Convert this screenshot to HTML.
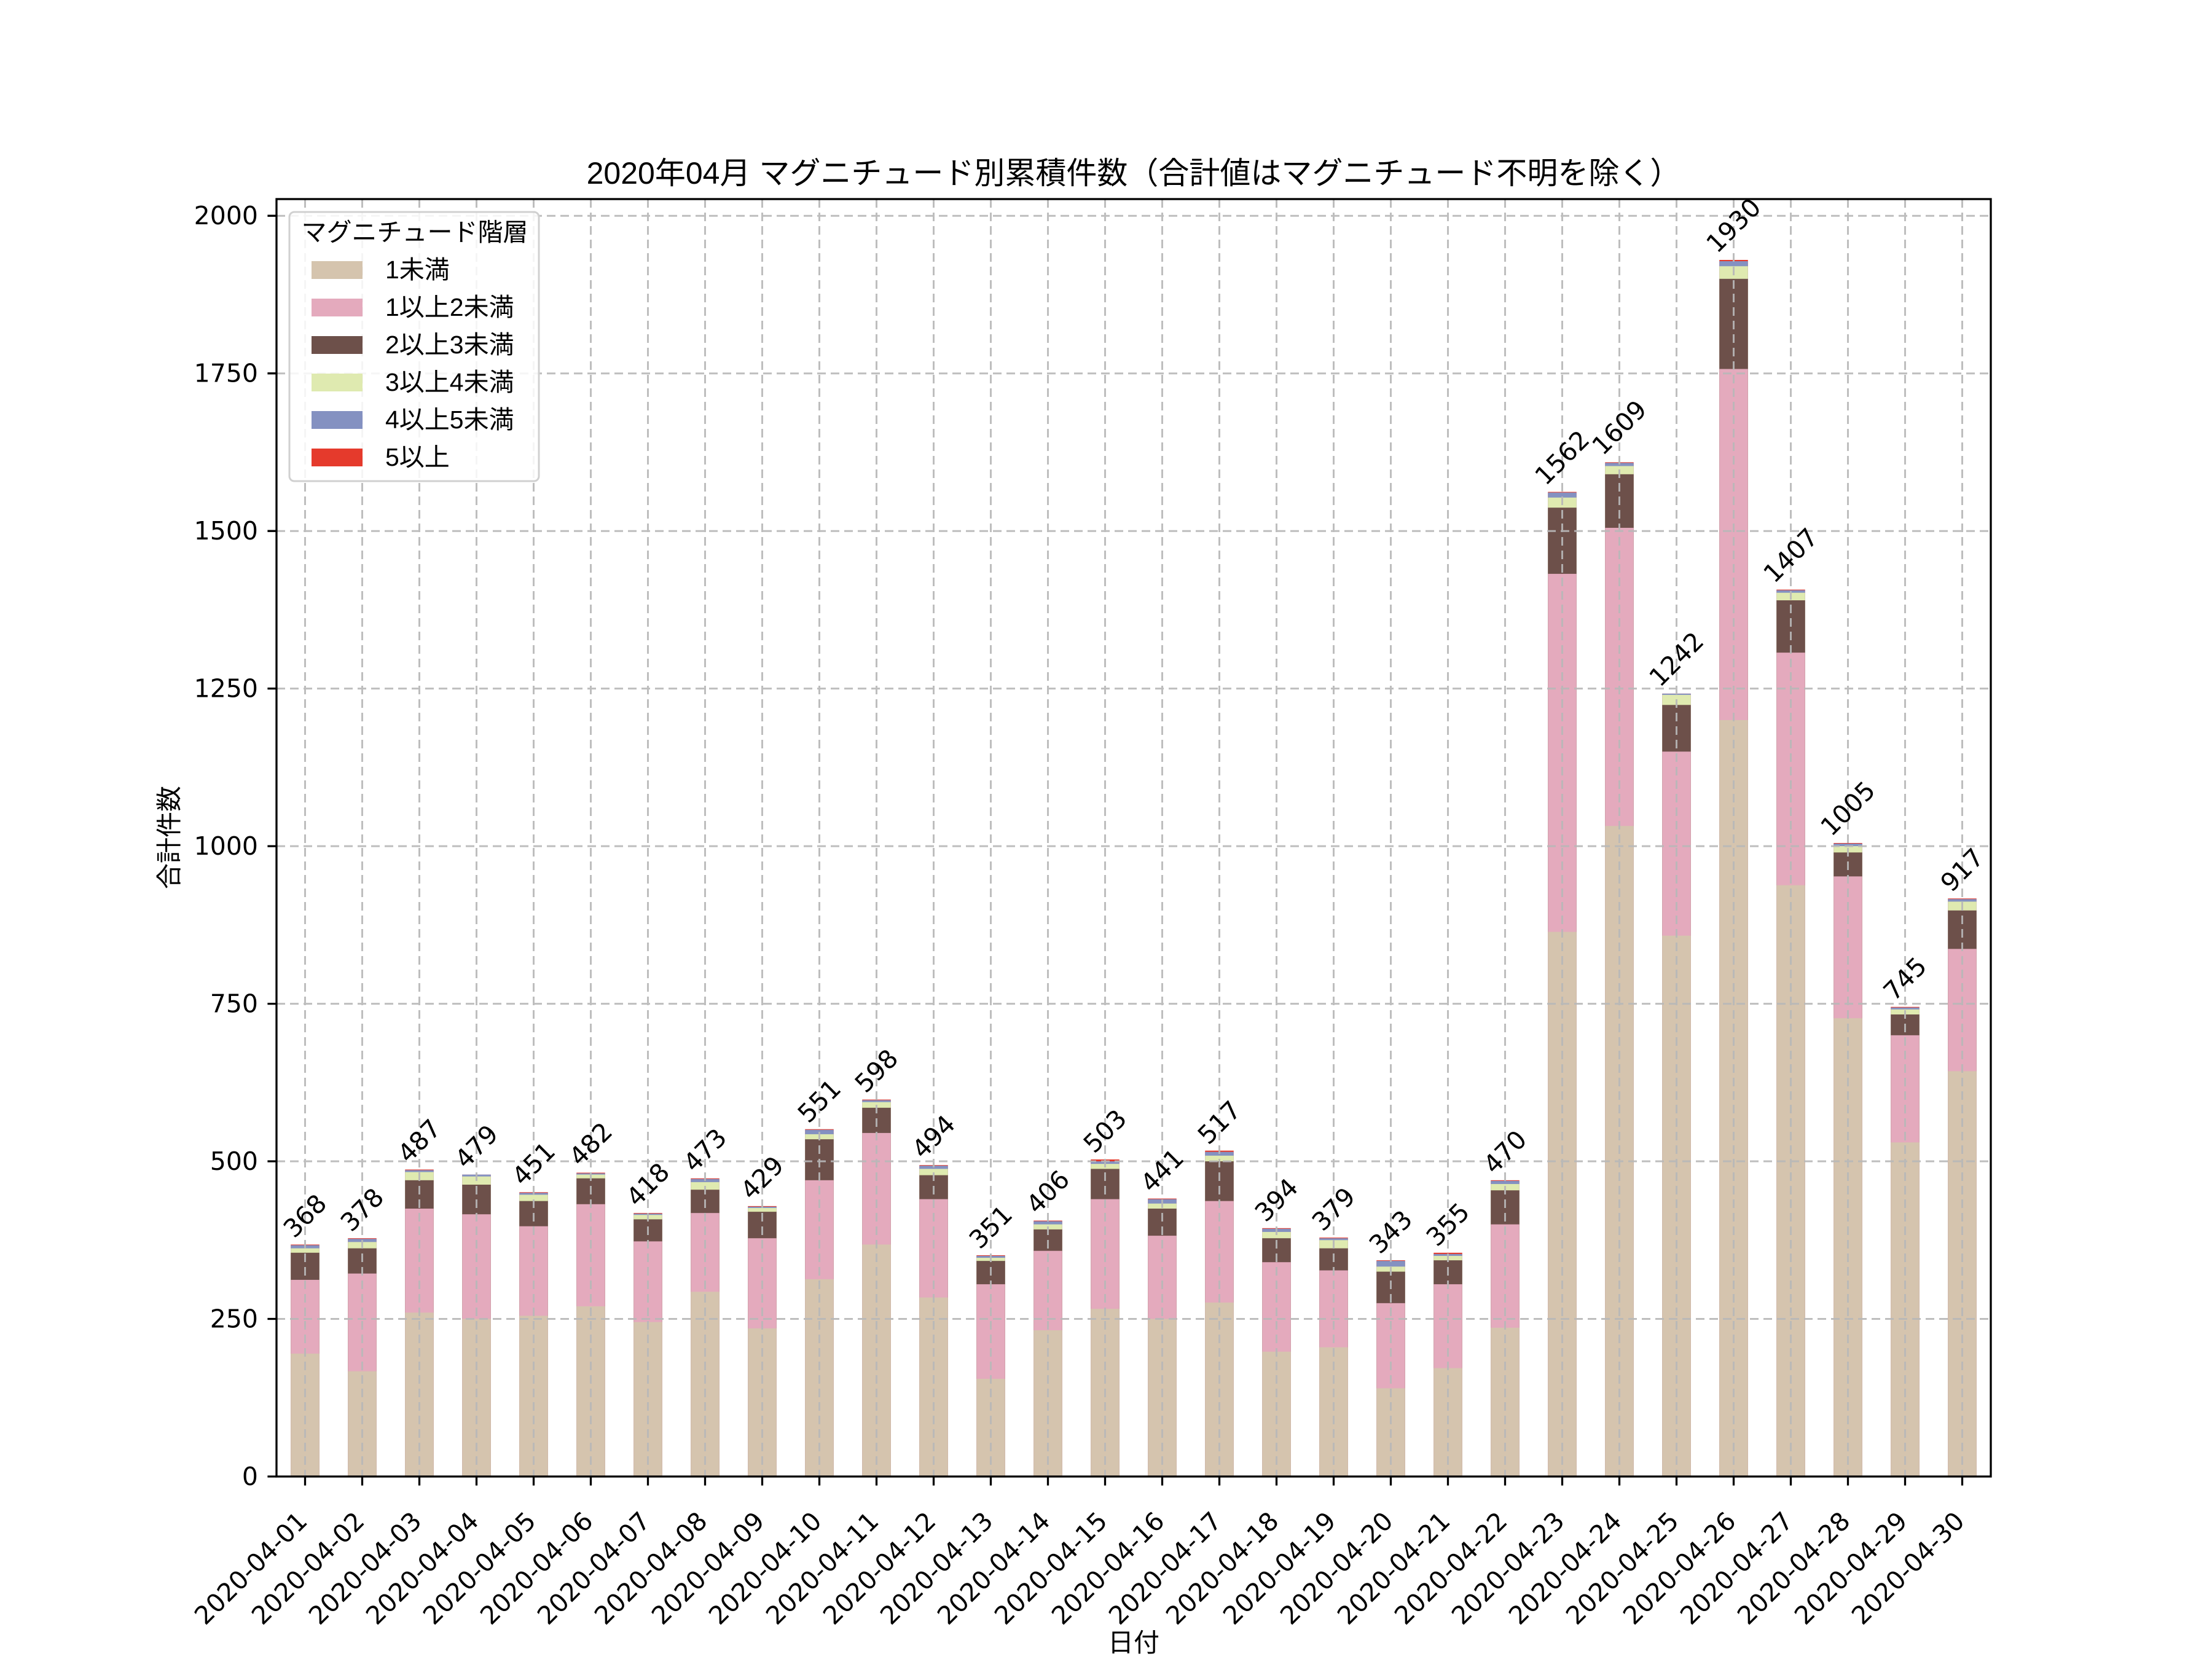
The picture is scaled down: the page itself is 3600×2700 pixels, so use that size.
<!DOCTYPE html>
<html><head><meta charset="utf-8"><style>
html,body{margin:0;padding:0;background:#fff}
svg{display:block}
text{font-family:"Liberation Sans","Noto Sans CJK JP",sans-serif;fill:#000}
.a{font-family:"DejaVu Sans","Noto Sans CJK JP",sans-serif;font-size:41px;text-anchor:middle;dominant-baseline:central}
.x{font-family:"DejaVu Sans","Noto Sans CJK JP",sans-serif;font-size:41px;text-anchor:end}
.y{font-family:"DejaVu Sans","Noto Sans CJK JP",sans-serif;font-size:41px;text-anchor:end;dominant-baseline:central}
</style></head><body>
<svg width="3600" height="2700" viewBox="0 0 3600 2700" xmlns="http://www.w3.org/2000/svg">
<rect width="3600" height="2700" fill="#fff"/>
<g transform="translate(496.5,2403) scale(93,-1.0259)">
<g fill="#e53a2c">
<rect x="-0.25" width="0.5" height="368"/><rect x="0.75" width="0.5" height="378"/><rect x="1.75" width="0.5" height="487"/><rect x="2.75" width="0.5" height="479"/><rect x="3.75" width="0.5" height="451"/><rect x="4.75" width="0.5" height="482"/><rect x="5.75" width="0.5" height="418"/><rect x="6.75" width="0.5" height="473"/><rect x="7.75" width="0.5" height="429"/><rect x="8.75" width="0.5" height="551"/><rect x="9.75" width="0.5" height="598"/><rect x="10.75" width="0.5" height="494"/><rect x="11.75" width="0.5" height="351"/><rect x="12.75" width="0.5" height="406"/><rect x="13.75" width="0.5" height="503"/><rect x="14.75" width="0.5" height="441"/><rect x="15.75" width="0.5" height="517"/><rect x="16.75" width="0.5" height="394"/><rect x="17.75" width="0.5" height="379"/><rect x="18.75" width="0.5" height="343"/><rect x="19.75" width="0.5" height="355"/><rect x="20.75" width="0.5" height="470"/><rect x="21.75" width="0.5" height="1562"/><rect x="22.75" width="0.5" height="1609"/><rect x="23.75" width="0.5" height="1242"/><rect x="24.75" width="0.5" height="1930"/><rect x="25.75" width="0.5" height="1407"/><rect x="26.75" width="0.5" height="1005"/><rect x="27.75" width="0.5" height="745"/><rect x="28.75" width="0.5" height="917"/>
</g>
<g fill="#8491c1">
<rect x="-0.25" width="0.5" height="367"/><rect x="0.75" width="0.5" height="377"/><rect x="1.75" width="0.5" height="486"/><rect x="2.75" width="0.5" height="479"/><rect x="3.75" width="0.5" height="450"/><rect x="4.75" width="0.5" height="481"/><rect x="5.75" width="0.5" height="417"/><rect x="6.75" width="0.5" height="472"/><rect x="7.75" width="0.5" height="428"/><rect x="8.75" width="0.5" height="550"/><rect x="9.75" width="0.5" height="597"/><rect x="10.75" width="0.5" height="493"/><rect x="11.75" width="0.5" height="350"/><rect x="12.75" width="0.5" height="405"/><rect x="13.75" width="0.5" height="500"/><rect x="14.75" width="0.5" height="440"/><rect x="15.75" width="0.5" height="515"/><rect x="16.75" width="0.5" height="393"/><rect x="17.75" width="0.5" height="378"/><rect x="18.75" width="0.5" height="342"/><rect x="19.75" width="0.5" height="353"/><rect x="20.75" width="0.5" height="469"/><rect x="21.75" width="0.5" height="1561"/><rect x="22.75" width="0.5" height="1608"/><rect x="23.75" width="0.5" height="1242"/><rect x="24.75" width="0.5" height="1928"/><rect x="25.75" width="0.5" height="1406"/><rect x="26.75" width="0.5" height="1004"/><rect x="27.75" width="0.5" height="744"/><rect x="28.75" width="0.5" height="916"/>
</g>
<g fill="#dfeab0">
<rect x="-0.25" width="0.5" height="362"/><rect x="0.75" width="0.5" height="372"/><rect x="1.75" width="0.5" height="483"/><rect x="2.75" width="0.5" height="476"/><rect x="3.75" width="0.5" height="447"/><rect x="4.75" width="0.5" height="479"/><rect x="5.75" width="0.5" height="415"/><rect x="6.75" width="0.5" height="467"/><rect x="7.75" width="0.5" height="426"/><rect x="8.75" width="0.5" height="543"/><rect x="9.75" width="0.5" height="594"/><rect x="10.75" width="0.5" height="488"/><rect x="11.75" width="0.5" height="347"/><rect x="12.75" width="0.5" height="400"/><rect x="13.75" width="0.5" height="496"/><rect x="14.75" width="0.5" height="433"/><rect x="15.75" width="0.5" height="509"/><rect x="16.75" width="0.5" height="388"/><rect x="17.75" width="0.5" height="375"/><rect x="18.75" width="0.5" height="333"/><rect x="19.75" width="0.5" height="350"/><rect x="20.75" width="0.5" height="464"/><rect x="21.75" width="0.5" height="1553"/><rect x="22.75" width="0.5" height="1603"/><rect x="23.75" width="0.5" height="1240"/><rect x="24.75" width="0.5" height="1920"/><rect x="25.75" width="0.5" height="1402"/><rect x="26.75" width="0.5" height="1000"/><rect x="27.75" width="0.5" height="741"/><rect x="28.75" width="0.5" height="912"/>
</g>
<g fill="#6d504a">
<rect x="-0.25" width="0.5" height="355"/><rect x="0.75" width="0.5" height="362"/><rect x="1.75" width="0.5" height="470"/><rect x="2.75" width="0.5" height="463"/><rect x="3.75" width="0.5" height="437"/><rect x="4.75" width="0.5" height="473"/><rect x="5.75" width="0.5" height="408"/><rect x="6.75" width="0.5" height="455"/><rect x="7.75" width="0.5" height="420"/><rect x="8.75" width="0.5" height="535"/><rect x="9.75" width="0.5" height="585"/><rect x="10.75" width="0.5" height="478"/><rect x="11.75" width="0.5" height="342"/><rect x="12.75" width="0.5" height="392"/><rect x="13.75" width="0.5" height="488"/><rect x="14.75" width="0.5" height="425"/><rect x="15.75" width="0.5" height="500"/><rect x="16.75" width="0.5" height="378"/><rect x="17.75" width="0.5" height="362"/><rect x="18.75" width="0.5" height="325"/><rect x="19.75" width="0.5" height="343"/><rect x="20.75" width="0.5" height="454"/><rect x="21.75" width="0.5" height="1537"/><rect x="22.75" width="0.5" height="1590"/><rect x="23.75" width="0.5" height="1224"/><rect x="24.75" width="0.5" height="1900"/><rect x="25.75" width="0.5" height="1390"/><rect x="26.75" width="0.5" height="990"/><rect x="27.75" width="0.5" height="733"/><rect x="28.75" width="0.5" height="898"/>
</g>
<g fill="#e4aabd">
<rect x="-0.25" width="0.5" height="312"/><rect x="0.75" width="0.5" height="322"/><rect x="1.75" width="0.5" height="425"/><rect x="2.75" width="0.5" height="416"/><rect x="3.75" width="0.5" height="397"/><rect x="4.75" width="0.5" height="432"/><rect x="5.75" width="0.5" height="373"/><rect x="6.75" width="0.5" height="418"/><rect x="7.75" width="0.5" height="378"/><rect x="8.75" width="0.5" height="470"/><rect x="9.75" width="0.5" height="545"/><rect x="10.75" width="0.5" height="440"/><rect x="11.75" width="0.5" height="305"/><rect x="12.75" width="0.5" height="358"/><rect x="13.75" width="0.5" height="440"/><rect x="14.75" width="0.5" height="382"/><rect x="15.75" width="0.5" height="437"/><rect x="16.75" width="0.5" height="340"/><rect x="17.75" width="0.5" height="327"/><rect x="18.75" width="0.5" height="275"/><rect x="19.75" width="0.5" height="305"/><rect x="20.75" width="0.5" height="400"/><rect x="21.75" width="0.5" height="1432"/><rect x="22.75" width="0.5" height="1505"/><rect x="23.75" width="0.5" height="1150"/><rect x="24.75" width="0.5" height="1757"/><rect x="25.75" width="0.5" height="1307"/><rect x="26.75" width="0.5" height="952"/><rect x="27.75" width="0.5" height="700"/><rect x="28.75" width="0.5" height="837"/>
</g>
<g fill="#d5c4ae">
<rect x="-0.25" width="0.5" height="195"/><rect x="0.75" width="0.5" height="167"/><rect x="1.75" width="0.5" height="260"/><rect x="2.75" width="0.5" height="250"/><rect x="3.75" width="0.5" height="255"/><rect x="4.75" width="0.5" height="270"/><rect x="5.75" width="0.5" height="245"/><rect x="6.75" width="0.5" height="293"/><rect x="7.75" width="0.5" height="235"/><rect x="8.75" width="0.5" height="313"/><rect x="9.75" width="0.5" height="368"/><rect x="10.75" width="0.5" height="284"/><rect x="11.75" width="0.5" height="155"/><rect x="12.75" width="0.5" height="232"/><rect x="13.75" width="0.5" height="266"/><rect x="14.75" width="0.5" height="250"/><rect x="15.75" width="0.5" height="276"/><rect x="16.75" width="0.5" height="198"/><rect x="17.75" width="0.5" height="205"/><rect x="18.75" width="0.5" height="140"/><rect x="19.75" width="0.5" height="172"/><rect x="20.75" width="0.5" height="236"/><rect x="21.75" width="0.5" height="864"/><rect x="22.75" width="0.5" height="1032"/><rect x="23.75" width="0.5" height="858"/><rect x="24.75" width="0.5" height="1200"/><rect x="25.75" width="0.5" height="938"/><rect x="26.75" width="0.5" height="727"/><rect x="27.75" width="0.5" height="530"/><rect x="28.75" width="0.5" height="643"/>
</g>
</g>
<g stroke="#b8b8b8" stroke-width="3" stroke-dasharray="14 8" fill="none" opacity="0.9">
<path d="M450 2146.5H3240M450 1890H3240M450 1633.6H3240M450 1377.1H3240M450 1120.6H3240M450 864.2H3240M450 607.7H3240M450 351.2H3240"/>
<path d="M496.5 324V2403M589.5 324V2403M682.5 324V2403M775.5 324V2403M868.5 324V2403M961.5 324V2403M1054.5 324V2403M1147.5 324V2403M1240.5 324V2403M1333.5 324V2403M1426.5 324V2403M1519.5 324V2403M1612.5 324V2403M1705.5 324V2403M1798.5 324V2403M1891.5 324V2403M1984.5 324V2403M2077.5 324V2403M2170.5 324V2403M2263.5 324V2403M2356.5 324V2403M2449.5 324V2403M2542.5 324V2403M2635.5 324V2403M2728.5 324V2403M2821.5 324V2403M2914.5 324V2403M3007.5 324V2403M3100.5 324V2403M3193.5 324V2403"/>
</g>
<rect x="450" y="324" width="2790" height="2079" fill="none" stroke="#000" stroke-width="3.3"/>
<g stroke="#000" stroke-width="3.3">
<path d="M450 2403h-14.6M450 2146.5h-14.6M450 1890h-14.6M450 1633.6h-14.6M450 1377.1h-14.6M450 1120.6h-14.6M450 864.2h-14.6M450 607.7h-14.6M450 351.2h-14.6"/>
<path d="M496.5 2403v14.6M589.5 2403v14.6M682.5 2403v14.6M775.5 2403v14.6M868.5 2403v14.6M961.5 2403v14.6M1054.5 2403v14.6M1147.5 2403v14.6M1240.5 2403v14.6M1333.5 2403v14.6M1426.5 2403v14.6M1519.5 2403v14.6M1612.5 2403v14.6M1705.5 2403v14.6M1798.5 2403v14.6M1891.5 2403v14.6M1984.5 2403v14.6M2077.5 2403v14.6M2170.5 2403v14.6M2263.5 2403v14.6M2356.5 2403v14.6M2449.5 2403v14.6M2542.5 2403v14.6M2635.5 2403v14.6M2728.5 2403v14.6M2821.5 2403v14.6M2914.5 2403v14.6M3007.5 2403v14.6M3100.5 2403v14.6M3193.5 2403v14.6"/>
</g>
<text class="y" x="420" y="2403">0</text>
<text class="y" x="420" y="2146.5">250</text>
<text class="y" x="420" y="1890">500</text>
<text class="y" x="420" y="1633.6">750</text>
<text class="y" x="420" y="1377.1">1000</text>
<text class="y" x="420" y="1120.6">1250</text>
<text class="y" x="420" y="864.2">1500</text>
<text class="y" x="420" y="607.7">1750</text>
<text class="y" x="420" y="351.2">2000</text>
<text class="x" transform="translate(502.5,2478) rotate(-45)">2020-04-01</text>
<text class="x" transform="translate(595.5,2478) rotate(-45)">2020-04-02</text>
<text class="x" transform="translate(688.5,2478) rotate(-45)">2020-04-03</text>
<text class="x" transform="translate(781.5,2478) rotate(-45)">2020-04-04</text>
<text class="x" transform="translate(874.5,2478) rotate(-45)">2020-04-05</text>
<text class="x" transform="translate(967.5,2478) rotate(-45)">2020-04-06</text>
<text class="x" transform="translate(1060.5,2478) rotate(-45)">2020-04-07</text>
<text class="x" transform="translate(1153.5,2478) rotate(-45)">2020-04-08</text>
<text class="x" transform="translate(1246.5,2478) rotate(-45)">2020-04-09</text>
<text class="x" transform="translate(1339.5,2478) rotate(-45)">2020-04-10</text>
<text class="x" transform="translate(1432.5,2478) rotate(-45)">2020-04-11</text>
<text class="x" transform="translate(1525.5,2478) rotate(-45)">2020-04-12</text>
<text class="x" transform="translate(1618.5,2478) rotate(-45)">2020-04-13</text>
<text class="x" transform="translate(1711.5,2478) rotate(-45)">2020-04-14</text>
<text class="x" transform="translate(1804.5,2478) rotate(-45)">2020-04-15</text>
<text class="x" transform="translate(1897.5,2478) rotate(-45)">2020-04-16</text>
<text class="x" transform="translate(1990.5,2478) rotate(-45)">2020-04-17</text>
<text class="x" transform="translate(2083.5,2478) rotate(-45)">2020-04-18</text>
<text class="x" transform="translate(2176.5,2478) rotate(-45)">2020-04-19</text>
<text class="x" transform="translate(2269.5,2478) rotate(-45)">2020-04-20</text>
<text class="x" transform="translate(2362.5,2478) rotate(-45)">2020-04-21</text>
<text class="x" transform="translate(2455.5,2478) rotate(-45)">2020-04-22</text>
<text class="x" transform="translate(2548.5,2478) rotate(-45)">2020-04-23</text>
<text class="x" transform="translate(2641.5,2478) rotate(-45)">2020-04-24</text>
<text class="x" transform="translate(2734.5,2478) rotate(-45)">2020-04-25</text>
<text class="x" transform="translate(2827.5,2478) rotate(-45)">2020-04-26</text>
<text class="x" transform="translate(2920.5,2478) rotate(-45)">2020-04-27</text>
<text class="x" transform="translate(3013.5,2478) rotate(-45)">2020-04-28</text>
<text class="x" transform="translate(3106.5,2478) rotate(-45)">2020-04-29</text>
<text class="x" transform="translate(3199.5,2478) rotate(-45)">2020-04-30</text>
<text class="a" transform="translate(496.5,1979) rotate(-45)">368</text>
<text class="a" transform="translate(589.5,1969) rotate(-45)">378</text>
<text class="a" transform="translate(682.5,1857) rotate(-45)">487</text>
<text class="a" transform="translate(775.5,1866) rotate(-45)">479</text>
<text class="a" transform="translate(868.5,1894) rotate(-45)">451</text>
<text class="a" transform="translate(961.5,1862) rotate(-45)">482</text>
<text class="a" transform="translate(1054.5,1928) rotate(-45)">418</text>
<text class="a" transform="translate(1147.5,1872) rotate(-45)">473</text>
<text class="a" transform="translate(1240.5,1917) rotate(-45)">429</text>
<text class="a" transform="translate(1333.5,1792) rotate(-45)">551</text>
<text class="a" transform="translate(1426.5,1743) rotate(-45)">598</text>
<text class="a" transform="translate(1519.5,1850) rotate(-45)">494</text>
<text class="a" transform="translate(1612.5,1997) rotate(-45)">351</text>
<text class="a" transform="translate(1705.5,1940) rotate(-45)">406</text>
<text class="a" transform="translate(1798.5,1841) rotate(-45)">503</text>
<text class="a" transform="translate(1891.5,1905) rotate(-45)">441</text>
<text class="a" transform="translate(1984.5,1827) rotate(-45)">517</text>
<text class="a" transform="translate(2077.5,1953) rotate(-45)">394</text>
<text class="a" transform="translate(2170.5,1968) rotate(-45)">379</text>
<text class="a" transform="translate(2263.5,2005) rotate(-45)">343</text>
<text class="a" transform="translate(2356.5,1993) rotate(-45)">355</text>
<text class="a" transform="translate(2449.5,1875) rotate(-45)">470</text>
<text class="a" transform="translate(2542.5,745) rotate(-45)">1562</text>
<text class="a" transform="translate(2635.5,696) rotate(-45)">1609</text>
<text class="a" transform="translate(2728.5,1073) rotate(-45)">1242</text>
<text class="a" transform="translate(2821.5,367) rotate(-45)">1930</text>
<text class="a" transform="translate(2914.5,904) rotate(-45)">1407</text>
<text class="a" transform="translate(3007.5,1316) rotate(-45)">1005</text>
<text class="a" transform="translate(3100.5,1593) rotate(-45)">745</text>
<text class="a" transform="translate(3193.5,1416) rotate(-45)">917</text>
<text x="1845" y="299" style="font-size:50px;text-anchor:middle">2020年04月 マグニチュード別累積件数（合計値はマグニチュード不明を除く）</text>
<text x="1845" y="2688" style="font-size:42px;text-anchor:middle">日付</text>
<text transform="translate(290,1363) rotate(-90)" style="font-size:42px;text-anchor:middle">合計件数</text>
<rect x="471" y="345" width="406" height="438" rx="8" fill="#fff" fill-opacity="0.85" stroke="#d0d0d0" stroke-width="3"/>
<text x="675" y="378" style="font-size:41px;text-anchor:middle;dominant-baseline:central">マグニチュード階層</text>
<rect x="507" y="425" width="83" height="29" fill="#d5c4ae"/>
<rect x="507" y="486" width="83" height="29" fill="#e4aabd"/>
<rect x="507" y="547" width="83" height="29" fill="#6d504a"/>
<rect x="507" y="608" width="83" height="29" fill="#dfeab0"/>
<rect x="507" y="669" width="83" height="29" fill="#8491c1"/>
<rect x="507" y="730" width="83" height="29" fill="#e53a2c"/>
<g style="font-size:41px;dominant-baseline:central">
<text x="627" y="439">1未満</text>
<text x="627" y="500">1以上2未満</text>
<text x="627" y="561">2以上3未満</text>
<text x="627" y="622">3以上4未満</text>
<text x="627" y="683">4以上5未満</text>
<text x="627" y="744">5以上</text>
</g>
</svg>
</body></html>
